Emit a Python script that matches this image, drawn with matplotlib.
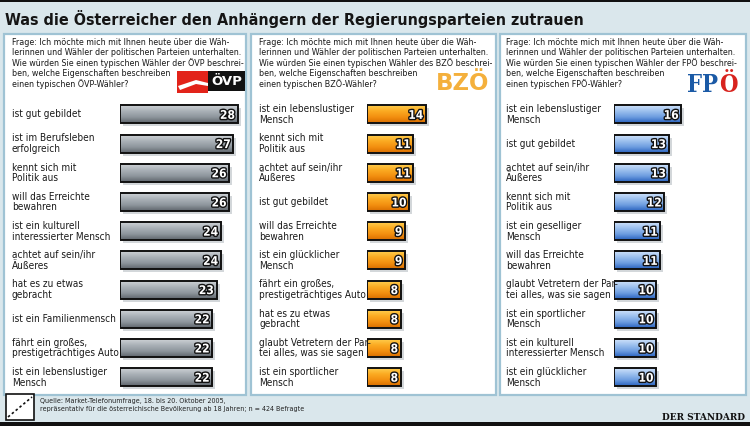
import matplotlib
matplotlib.use("Agg")
import matplotlib.pyplot as plt
import numpy as np
from matplotlib import transforms, patheffects
from matplotlib import font_manager as fm
from matplotlib.colors import LinearSegmentedColormap
from matplotlib.patches import Rectangle, Polygon

# ---------------- data ----------------
title = "Was die Österreicher den Anhängern der Regierungsparteien zutrauen"

ovp_labels = ["ist gut gebildet", "ist im Berufsleben\nerfolgreich", "kennt sich mit\nPolitik aus",
              "will das Erreichte\nbewahren", "ist ein kulturell\ninteressierter Mensch",
              "achtet auf sein/ihr\nÄußeres", "hat es zu etwas\ngebracht", "ist ein Familienmensch",
              "fährt ein großes,\nprestigeträchtiges Auto", "ist ein lebenslustiger\nMensch"]
ovp_values = [28, 27, 26, 26, 24, 24, 23, 22, 22, 22]

bzo_labels = ["ist ein lebenslustiger\nMensch", "kennt sich mit\nPolitik aus", "achtet auf sein/ihr\nÄußeres",
              "ist gut gebildet", "will das Erreichte\nbewahren", "ist ein glücklicher\nMensch",
              "fährt ein großes,\nprestigeträchtiges Auto", "hat es zu etwas\ngebracht",
              "glaubt Vetretern der Par-\ntei alles, was sie sagen", "ist ein sportlicher\nMensch"]
bzo_values = [14, 11, 11, 10, 9, 9, 8, 8, 8, 8]

fpo_labels = ["ist ein lebenslustiger\nMensch", "ist gut gebildet", "achtet auf sein/ihr\nÄußeres",
              "kennt sich mit\nPolitik aus", "ist ein geselliger\nMensch", "will das Erreichte\nbewahren",
              "glaubt Vetretern der Par-\ntei alles, was sie sagen", "ist ein sportlicher\nMensch",
              "ist ein kulturell\ninteressierter Mensch", "ist ein glücklicher\nMensch"]
fpo_values = [16, 13, 13, 12, 11, 11, 10, 10, 10, 10]

parties = ["ÖVP", "BZÖ", "FPÖ"]
articles = ["der", "des", "der"]
question = ["Frage: Ich möchte mich mit Ihnen heute über die Wäh-",
            "lerinnen und Wähler der politischen Parteien unterhalten.",
            "Wie würden Sie einen typischen Wähler {art} {p} beschrei-",
            "ben, welche Eigenschaften beschreiben",
            "einen typischen {p}-Wähler?"]
source = ["Quelle: Market-Telefonumfrage, 18. bis 20. Oktober 2005,",
          "repräsentativ für die österreichische Bevölkerung ab 18 Jahren; n = 424 Befragte"]

# ---------------- fonts ----------------
def find_condensed(bold):
    for f in fm.fontManager.ttflist:
        nm = f.name.lower()
        st = str(f.stretch).lower()
        cond = ("narrow" in nm or "condensed" in nm or "condensed" in st
                or (isinstance(f.stretch, (int, float)) and f.stretch < 500))
        if not cond or f.style != "normal" or "cjk" in nm:
            continue
        w = f.weight if isinstance(f.weight, (int, float)) else (700 if "bold" in str(f.weight) else 400)
        if bold != (w >= 600):
            continue
        return f
    return None

fr = find_condensed(False)
fb = find_condensed(True)
FP = fm.FontProperties(fname=fr.fname) if fr is not None else fm.FontProperties(family="Roboto")
FPB = (fm.FontProperties(fname=fb.fname) if fb is not None
       else fm.FontProperties(family="Roboto", weight="bold"))

W, H = 750, 426
BG = "#dae7ec"
fig = plt.figure(figsize=(W / 100, H / 100), dpi=100, facecolor=BG)
renderer = fig.canvas.get_renderer()


def text_w(text, prop, size):
    p = prop.copy()
    p.set_size(size)
    t = fig.text(0, 0, text, fontproperties=p)
    w = t.get_window_extent(renderer).width
    t.remove()
    return w


def fit_size(text, target_px, prop, base=10.0):
    return base * target_px / text_w(text, prop, base)


def fp(prop, size):
    p = prop.copy()
    p.set_size(size)
    return p


q_lines = [l.format(art=articles[i], p=parties[i]) for i in range(3) for l in question[:3]]
widest = max(q_lines, key=lambda s: text_w(s, FP, 10))
size_label = min(fit_size("ist gut gebildet", 68, FP), 9.5)
size_q = min(fit_size(widest, 236, FP), 8.0)
size_title = min(fit_size(title, 575, FPB), 17.0)
size_src = min(fit_size(source[1], 263, FP), 7.0)
size_val = min(fit_size("28", 15, FPB), 10.5)

# decoration layer in pixel coordinates
deco = fig.add_axes([0, 0, 1, 1])
deco.set_xlim(0, W)
deco.set_ylim(H, 0)
deco.axis("off")
deco.set_zorder(0)

deco.add_patch(Rectangle((0, 0), W, 1.5, color="#111111", lw=0))
deco.add_patch(Rectangle((0, H - 4), W, 4, color="#111111", lw=0))
deco.text(5, 19, title, fontproperties=fp(FPB, size_title), color="#151515",
          va="center", ha="left")

panel_x = [(4, 246), (251, 496), (500, 746)]
panel_top, panel_bot = 34, 395
for (x0, x1) in panel_x:
    deco.add_patch(Rectangle((x0, panel_top), x1 - x0, panel_bot - panel_top,
                             facecolor="white", edgecolor="#9fc3d4", lw=1.6))

label_x = [12, 259, 506]
bar_left = [120, 367, 614]
q_y0, q_step = 42.5, 10.3
for i in range(3):
    for k, line in enumerate(question):
        deco.text(label_x[i], q_y0 + k * q_step, line.format(art=articles[i], p=parties[i]),
                  fontproperties=fp(FP, size_q), va="center", ha="left", color="#1a1a1a")

# ---- logos ----
deco.add_patch(Polygon([(177, 71), (208, 71), (208, 93), (177, 93)], closed=True,
                       facecolor="#e2231a", lw=0))
deco.add_patch(Polygon([(178, 86), (196, 80), (208, 83), (208, 86), (196, 84), (180, 90)],
                       closed=True, facecolor="white", lw=0))
deco.add_patch(Rectangle((208, 71), 37, 20, facecolor="#111111", lw=0))
deco.text(226.5, 81.5, "ÖVP", color="white", fontsize=9.5, fontweight="bold",
          ha="center", va="center", family=["DejaVu Sans"])
deco.text(463, 84, "BZÖ", color="#f4b03c", fontsize=16.5, fontweight="bold",
          ha="center", va="center", family=["DejaVu Sans"])
deco.text(718, 92, "FP", color="#1b5aa6", fontsize=17, fontweight="bold",
          fontstretch="condensed", ha="right", va="baseline", family=["DejaVu Serif"])
deco.text(719, 92, "Ö", color="#d8231e", fontsize=17, fontweight="bold",
          fontstretch="condensed", ha="left", va="baseline", family=["DejaVu Serif"])

# footer
deco.add_patch(Rectangle((6, 394), 28, 26, facecolor="white", edgecolor="#111111", lw=1.2))
deco.plot([8, 32], [417, 397], color="#111111", lw=1.2, ls=(0, (1.5, 1.5)))
for k, line in enumerate(source):
    deco.text(40, 401.5 + k * 8, line, fontproperties=fp(FP, size_src), va="center",
              ha="left", color="#222222")
deco.text(745, 418, "DER STANDARD", fontsize=6.5, fontweight="bold", va="center",
          ha="right", color="#111111", family=["DejaVu Serif"])

# ---------------- bars ----------------
cmaps = [
    LinearSegmentedColormap.from_list("g", ["#cdd2d6", "#aab1b7", "#8e969d", "#5f666c"]),
    LinearSegmentedColormap.from_list("o", ["#ffcd4d", "#fbaa22", "#f39010", "#d96e00"]),
    LinearSegmentedColormap.from_list("b", ["#cfe2fa", "#9cc0ee", "#6d9de0", "#2a63bf"]),
]
values_all = [ovp_values, bzo_values, fpo_values]
labels_all = [ovp_labels, bzo_labels, fpo_labels]

px_per_unit = 4.2
row0, row_step = 114.5, 29.2
n_rows = 10
ax_top = row0 - row_step / 2
ax_h = row_step * n_rows
bar_h = 18 / row_step
grad = np.linspace(0, 1, 64).reshape(-1, 1)

for i in range(3):
    left = bar_left[i]
    width = panel_x[i][1] - left
    ax = fig.add_axes([left / W, 1 - (ax_top + ax_h) / H, width / W, ax_h / H])
    ax.set_zorder(2)
    ax.patch.set_alpha(0)
    ax.axis("off")
    vals = values_all[i]
    ypos = np.arange(len(vals))
    shadow = transforms.offset_copy(ax.transData, fig=fig, x=3, y=-3, units="dots")
    ax.barh(ypos, vals, height=bar_h, color="#d3d7da", lw=0, transform=shadow, zorder=1)
    bars = ax.barh(ypos, vals, height=bar_h, color="none", edgecolor="#111111",
                   lw=1.4, zorder=3)
    for b, v, y in zip(bars, vals, ypos):
        im = ax.imshow(grad, cmap=cmaps[i], aspect="auto",
                       extent=(0, v, y + bar_h / 2, y - bar_h / 2), zorder=2,
                       interpolation="bilinear")
        im.set_clip_path(b)
        ax.text(v - 0.6, y + 0.03, str(v), ha="right", va="center",
                fontproperties=fp(FPB, size_val), color="white", zorder=4,
                path_effects=[patheffects.withStroke(linewidth=2, foreground="#111111")])
    ax.set_xlim(0, width / px_per_unit)
    ax.set_ylim(n_rows - 0.5, -0.5)
    tr = transforms.blended_transform_factory(fig.transFigure, ax.transData)
    for lab, y in zip(labels_all[i], ypos):
        ax.text(label_x[i] / W, y, lab, transform=tr, ha="left", va="center",
                fontproperties=fp(FP, size_label), color="#1a1a1a", linespacing=1.08,
                clip_on=False)

fig.savefig("out.png", dpi=100, facecolor=BG)
